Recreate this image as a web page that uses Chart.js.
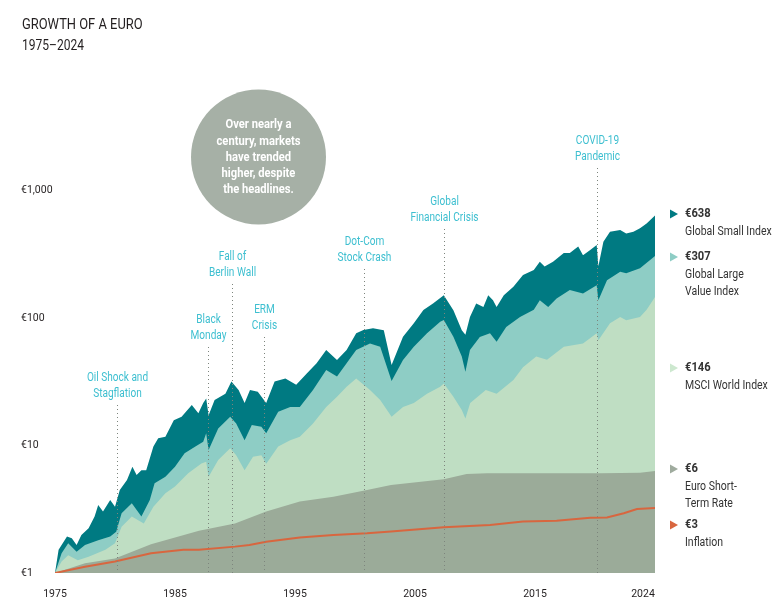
<!DOCTYPE html>
<html>
<head>
<meta charset="utf-8">
<title>Growth of a Euro</title>
<script src="https://cdn.jsdelivr.net/npm/chart.js@4.4.1/dist/chart.umd.min.js"></script>
<style>
  html, body { margin: 0; padding: 0; background: #fff; }
  #wrap { position: relative; width: 780px; height: 610px; }
  canvas { display: block; }
</style>
</head>
<body>
<div id="wrap"><canvas id="growth-chart" width="780" height="610"></canvas></div>
<script>
// values, growth of 1 euro (log scale)
var smallYears = [1975.0, 1975.3, 1976.0, 1976.4, 1976.8, 1977.2, 1977.8, 1978.3, 1978.6, 1979.0,
  1979.6, 1980.0, 1980.4, 1981.0, 1981.45, 1981.8, 1982.2, 1982.6, 1983.2, 1983.6,
  1984.2, 1984.9, 1985.55, 1986.4, 1986.95, 1987.35, 1987.6, 1987.8, 1988.3, 1989.2,
  1989.7, 1990.3, 1990.8, 1991.25, 1991.9, 1992.6, 1993.3, 1994.2, 1995.1, 1996.0,
  1996.8, 1997.6, 1998.5, 1999.3, 2000.1, 2000.7, 2001.5, 2002.4, 2003.05, 2004.0,
  2004.9, 2005.7, 2006.5, 2007.4, 2008.2, 2008.9, 2009.2, 2009.58, 2010.1, 2010.7,
  2011.1, 2011.5, 2011.8, 2012.4, 2013.2, 2014.0, 2014.9, 2015.4, 2015.8, 2016.5,
  2017.4, 2017.9, 2018.6, 2019.0, 2019.6, 2020.14, 2020.28, 2020.7, 2021.25, 2022.1,
  2022.6, 2023.2, 2023.75, 2024.3, 2025.0];
var smallValues = [1.0, 1.52, 1.93, 1.87, 1.66, 1.99, 2.24, 2.77, 3.42, 3.03,
  3.74, 3.31, 4.48, 5.36, 6.82, 5.87, 6.4, 6.4, 9.8, 11.4,
  11.7, 15.8, 16.8, 20.8, 17.9, 21.5, 23.4, 17.3, 22.7, 25.5,
  31.7, 27.2, 21.5, 27.2, 26.4, 21.5, 31.7, 33.5, 29.9, 36.8,
  44.2, 56.1, 46.9, 56, 75.9, 80.5, 83, 80, 42.8, 71.3,
  90.9, 115.6, 130, 151, 115, 80, 74, 102, 130, 122,
  151, 138, 122, 151, 176, 217, 238, 276, 253, 276,
  323, 323, 364, 311, 342, 374, 255, 396, 475, 490,
  460, 475, 505, 550, 638];

var valueYears = [1975.0, 1975.55, 1976.1, 1976.8, 1977.5, 1978.6, 1979.6, 1980.1, 1980.55, 1981.4,
  1982.2, 1982.9, 1983.3, 1984.2, 1985.0, 1985.8, 1986.7, 1987.35, 1987.6, 1987.8,
  1988.6, 1989.6, 1990.1, 1990.8, 1991.4, 1992.2, 1992.6, 1993.6, 1994.6, 1995.4,
  1996.5, 1997.6, 1998.5, 1999.3, 2000.1, 2001.25, 2002.1, 2003.05, 2004.0, 2004.9,
  2006.0, 2007.1, 2007.4, 2008.2, 2008.9, 2009.2, 2009.58, 2010.4, 2011.25, 2011.8,
  2012.6, 2013.75, 2014.9, 2015.4, 2016.1, 2016.8, 2017.9, 2019.0, 2020.14, 2020.28,
  2021.0, 2022.1, 2022.6, 2023.75, 2025.0];
var valueValues = [1.0, 1.43, 1.71, 1.47, 1.66, 1.81, 1.93, 2.11, 2.94, 3.52,
  2.77, 3.74, 5.05, 5.7, 6.82, 8.7, 9.8, 10.7, 12.5, 9.2,
  13.6, 16.8, 14.9, 11.0, 14.5, 14.0, 12.5, 18.4, 20, 20,
  27.2, 39.1, 34.8, 44.2, 56, 63.2, 59.5, 32, 46.9, 59.5,
  75.9, 93.5, 96.5, 71.3, 50, 37.9, 56, 71, 76, 65,
  85, 102, 116, 138, 122, 142, 166, 156, 181, 138,
  198, 231, 224, 246, 307];

var worldYears = [1975.0, 1975.55, 1976.1, 1976.9, 1977.8, 1979.2, 1980.0, 1980.55, 1981.4, 1982.4,
  1983.2, 1984.2, 1985.0, 1986.1, 1987.2, 1987.6, 1987.8, 1988.6, 1989.6, 1990.1,
  1990.8, 1991.5, 1992.2, 1992.6, 1993.6, 1994.6, 1995.4, 1996.5, 1997.6, 1998.5,
  1999.3, 2000.1, 2001.25, 2002.1, 2003.05, 2004.0, 2004.9, 2006.0, 2007.1, 2007.4,
  2008.2, 2008.9, 2009.2, 2009.6, 2010.9, 2011.8, 2013.2, 2014.0, 2015.1, 2016.0,
  2017.4, 2019.0, 2020.14, 2020.28, 2021.25, 2022.1, 2022.6, 2023.75, 2024.3, 2025.0];
var worldValues = [1.0, 1.23, 1.38, 1.26, 1.34, 1.52, 1.71, 2.31, 2.77, 2.45,
  3.31, 4.22, 4.76, 6.05, 7.24, 7.46, 5.7, 7.7, 9.5, 8.4,
  6.4, 8.15, 8.4, 7.2, 9.8, 11, 11.7, 14.9, 20, 24.1,
  28.9, 33.6, 27.2, 22.7, 16.8, 20, 21.5, 25.5, 28.9, 30.6,
  24.1, 19, 16.3, 21.5, 27.2, 25.5, 32.6, 41, 49.8, 47,
  59.5, 63, 76, 67, 91, 102, 96, 102, 116, 146];

var rateYears = [1975, 1977.5, 1980, 1983, 1987, 1990, 1992.6, 1995.4, 1998.2, 2001,
  2003, 2007.4, 2009.3, 2011, 2020.5, 2023.75, 2025];
var rateValues = [1.0, 1.19, 1.3, 1.68, 2.14, 2.45, 3.03, 3.63, 3.97, 4.48,
  4.9, 5.43, 5.98, 6.05, 6.05, 6.1, 6.3];

var inflationYears = [1975, 1977.5, 1980, 1983, 1985.7, 1987, 1990, 1991.2, 1992.6, 1995.4,
  1998.2, 2001, 2003, 2007.4, 2011.25, 2014, 2016.8, 2019.6, 2021, 2022.4,
  2023.5, 2025];
var inflationValues = [1.0, 1.12, 1.23, 1.43, 1.52, 1.52, 1.61, 1.66, 1.76, 1.9,
  1.99, 2.05, 2.12, 2.28, 2.38, 2.53, 2.57, 2.71, 2.73, 2.94,
  3.17, 3.23];

var xTickYears = [1975, 1985, 1995, 2005, 2015, 2024];
var yTickValues = [1, 10, 100, 1000];

var eventYears = [1980.14, 1987.72, 1989.72, 1992.44, 2000.78, 2007.44, 2020.19];
var eventLabels = [['Oil Shock and', 'Stagflation'], ['Black', 'Monday'], ['Fall of', 'Berlin Wall'],
  ['ERM', 'Crisis'], ['Dot-Com', 'Stock Crash'], ['Global', 'Financial Crisis'], ['COVID-19', 'Pandemic']];

var legendValues = ['€638', '€307', '€146', '€6', '€3'];
var legendNames = [['Global Small Index'], ['Global Large', 'Value Index'], ['MSCI World Index'],
  ['Euro Short-', 'Term Rate'], ['Inflation']];

var FONT = 'Roboto, "Liberation Sans", sans-serif';
Chart.defaults.font.family = FONT;

function pts(xs, ys) {
  return xs.map(function (x, i) { return { x: x, y: ys[i] }; });
}

// the original uses a condensed face, so squeeze the text a bit
function narrowText(ctx, text, x, y, k) {
  var w = ctx.measureText(text).width;
  ctx.fillText(text, x, y, w * (k || 0.84));
}

// where the hand placed labels sit (pixels)
var eventTextY = [378, 320, 257, 310, 242, 202, 141];
var legendY = [214, 257, 368, 469, 525];
var legendColors = ['#007a82', '#8ecdc5', '#cde8cf', '#9fab9e', '#d8663f'];

var extras = {
  id: 'extras',
  afterDatasetsDraw: function (chart) {
    var ctx = chart.ctx;
    var xs = chart.scales.x;
    var bottom = chart.chartArea.bottom;
    ctx.save();
    ctx.font = '12px ' + FONT;
    ctx.textAlign = 'center';
    ctx.textBaseline = 'middle';
    eventYears.forEach(function (yr, i) {
      var px = Math.round(xs.getPixelForValue(yr)) + 0.5;
      var ty = eventTextY[i];
      ctx.strokeStyle = '#7d857d';
      ctx.lineWidth = 1;
      ctx.setLineDash([1, 3]);
      ctx.beginPath();
      ctx.moveTo(px, ty + 27);
      ctx.lineTo(px, bottom);
      ctx.stroke();
      ctx.setLineDash([]);
      ctx.fillStyle = '#3dbfd0';
      narrowText(ctx, eventLabels[i][0], px, ty);
      narrowText(ctx, eventLabels[i][1], px, ty + 15.5);
    });
    ctx.restore();
  },
  afterDraw: function (chart) {
    var ctx = chart.ctx;
    ctx.save();
    // title
    ctx.fillStyle = '#231f20';
    ctx.textAlign = 'left';
    ctx.textBaseline = 'middle';
    ctx.font = '15px ' + FONT;
    narrowText(ctx, 'GROWTH OF A EURO', 22, 25, 0.86);
    ctx.font = '14px ' + FONT;
    narrowText(ctx, '1975–2024', 22, 46, 0.86);

    // bubble
    ctx.fillStyle = '#a6b0a6';
    ctx.beginPath();
    ctx.arc(258.5, 157, 67.5, 0, Math.PI * 2);
    ctx.fill();
    ctx.fillStyle = '#ffffff';
    ctx.textAlign = 'center';
    ctx.font = 'bold 13px ' + FONT;
    ['Over nearly a', 'century, markets', 'have trended', 'higher, despite', 'the headlines.']
      .forEach(function (s, i) { narrowText(ctx, s, 258.5, 125 + i * 16.3, 0.86); });

    // right hand legend
    ctx.textAlign = 'left';
    legendValues.forEach(function (v, i) {
      var y = legendY[i];
      ctx.fillStyle = legendColors[i];
      ctx.beginPath();
      ctx.moveTo(670, y - 4.5);
      ctx.lineTo(678, y);
      ctx.lineTo(670, y + 4.5);
      ctx.closePath();
      ctx.fill();
      ctx.fillStyle = '#333333';
      ctx.font = 'bold 13px ' + FONT;
      narrowText(ctx, v, 685, y, 0.86);
      ctx.font = '12.5px ' + FONT;
      legendNames[i].forEach(function (s, j) { narrowText(ctx, s, 685, y + 18 + j * 17, 0.84); });
    });
    ctx.restore();
  }
};

var ctx = document.getElementById('growth-chart').getContext('2d');
var chart = new Chart(ctx, {
  type: 'line',
  data: {
    datasets: [
      { label: 'Inflation', data: pts(inflationYears, inflationValues), borderColor: '#d8663f',
        borderWidth: 2, fill: false, order: 0 },
      { label: 'Euro Short-Term Rate', data: pts(rateYears, rateValues), backgroundColor: '#9bab99',
        borderWidth: 0, fill: 'start', order: 1 },
      { label: 'MSCI World Index', data: pts(worldYears, worldValues), backgroundColor: '#bfdec3',
        borderWidth: 0, fill: 'start', order: 2 },
      { label: 'Global Large Value Index', data: pts(valueYears, valueValues), backgroundColor: '#8ecdc5',
        borderWidth: 0, fill: 'start', order: 3 },
      { label: 'Global Small Index', data: pts(smallYears, smallValues), backgroundColor: '#007a82',
        borderWidth: 0, fill: 'start', order: 4 }
    ]
  },
  options: {
    responsive: false,
    animation: false,
    devicePixelRatio: 1,
    layout: { padding: { left: 21, right: 125, top: 63, bottom: 0 } },
    elements: { point: { radius: 0 }, line: { tension: 0 } },
    plugins: { legend: { display: false }, tooltip: { enabled: false } },
    scales: {
      x: {
        type: 'linear', min: 1975, max: 2025,
        grid: { display: false }, border: { display: false },
        afterBuildTicks: function (s) { s.ticks = xTickYears.map(function (v) { return { value: v }; }); },
        afterFit: function (s) { s.height = 37; },
        ticks: { padding: 7, color: '#231f20', font: { size: 10.5 }, maxRotation: 0, autoSkip: false,
          callback: function (v) { return String(v); } }
      },
      y: {
        type: 'logarithmic', min: 1, max: 10000,
        grid: { display: false }, border: { display: false },
        afterBuildTicks: function (s) { s.ticks = yTickValues.map(function (v) { return { value: v }; }); },
        afterFit: function (s) { s.width = 34; },
        ticks: { padding: 0, crossAlign: 'far', color: '#231f20', font: { size: 10.5 }, autoSkip: false,
          callback: function (v) { return '€' + v.toLocaleString('en-US'); } }
      }
    }
  },
  plugins: [extras]
});
</script>
</body>
</html>
